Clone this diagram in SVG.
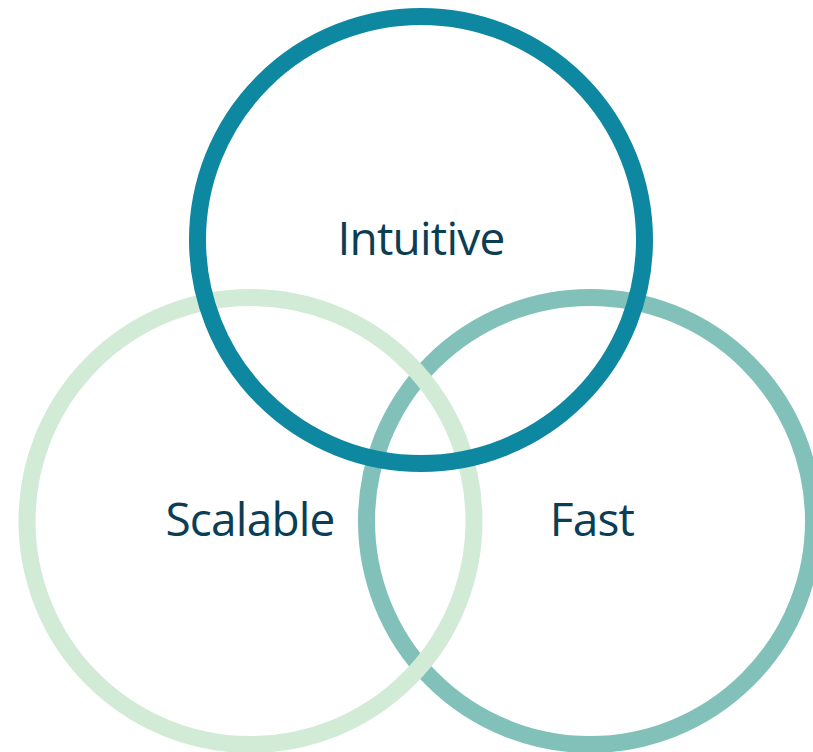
<svg xmlns="http://www.w3.org/2000/svg" width="813" height="752" viewBox="0 0 813 752">
  <style>
    .ring { fill: none; stroke-width: 17; }
    .label { font-family: "Open Sans", "Noto Sans", sans-serif; font-size: 46px; font-weight: 500; fill: #0b3d55; text-anchor: middle; letter-spacing: -0.8px; }
  </style>
  <rect width="813" height="752" fill="#ffffff"/>
  <!-- drawn back to front: Fast, Scalable, Intuitive -->
  <g id="fast">
    <circle class="ring" cx="590" cy="521" r="223.5" stroke="#82c1b9"/>
    <text class="label" x="592" y="536">Fast</text>
  </g>
  <g id="scalable">
    <circle class="ring" cx="250.5" cy="521" r="223.5" stroke="#d2ebd6"/>
    <text class="label" x="250" y="536">Scalable</text>
  </g>
  <g id="intuitive">
    <circle class="ring" cx="421" cy="240" r="223.5" stroke="#0e87a0"/>
    <text class="label" x="421" y="255">Intuitive</text>
  </g>
</svg>
